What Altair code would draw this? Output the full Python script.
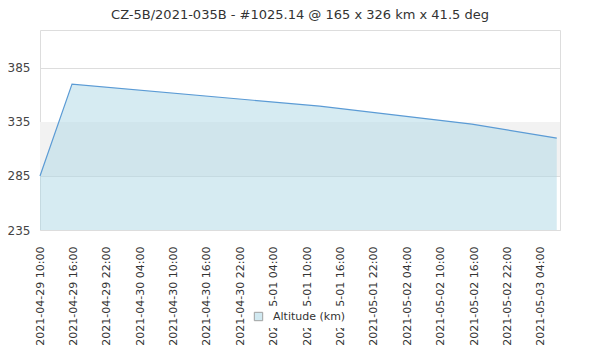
import altair as alt
import pandas as pd

# Data
times = ["2021-04-29T10:00:00", "2021-04-29T15:45:00", "2021-05-01T12:15:00",
         "2021-05-02T15:35:00", "2021-05-03T06:50:00"]
altitude = [285, 370, 349.5, 333, 320]
series_name = ["Altitude (km)"] * len(times)

band_low = [285]
band_high = [335]

y_ticks = [235, 285, 335, 385]
y_domain = [235, 420]
x_domain = ["2021-04-29T10:00:00", "2021-05-03T07:25:00"]
x_ticks = ["2021-04-29T10:00:00", "2021-04-29T16:00:00", "2021-04-29T22:00:00",
           "2021-04-30T04:00:00", "2021-04-30T10:00:00", "2021-04-30T16:00:00",
           "2021-04-30T22:00:00", "2021-05-01T04:00:00", "2021-05-01T10:00:00",
           "2021-05-01T16:00:00", "2021-05-01T22:00:00", "2021-05-02T04:00:00",
           "2021-05-02T10:00:00", "2021-05-02T16:00:00", "2021-05-02T22:00:00",
           "2021-05-03T04:00:00"]

title = "CZ-5B/2021-035B - #1025.14 @ 165 x 326 km x 41.5 deg"

df = pd.DataFrame({"t": times, "alt": altitude, "series": series_name})
band_df = pd.DataFrame({"lo": band_low, "hi": band_high})

x_enc = alt.X(
    "t:T",
    scale=alt.Scale(domain=x_domain),
    axis=alt.Axis(
        values=x_ticks, format="%Y-%m-%d %H:%M", labelAngle=-90,
        labelAlign="right", labelBaseline="middle", labelFont="DejaVu Sans",
        labelFontSize=11, labelColor="#333", labelPadding=16, ticks=False,
        domain=False, grid=False, title=None, labelOverlap=False,
    ),
)
y_scale = alt.Scale(domain=y_domain, nice=False, zero=False)

band = alt.Chart(band_df).mark_rect(color="#f2f2f2").encode(
    y=alt.Y("lo:Q", scale=y_scale,
            axis=alt.Axis(values=y_ticks, labelFont="DejaVu Sans", labelFontSize=12,
                          labelColor="#444", labelPadding=10, ticks=False,
                          domain=False, gridColor="#dddddd", title=None)),
    y2="hi:Q",
)

area = alt.Chart(df).mark_area(fillOpacity=0.5).encode(
    x=x_enc,
    y=alt.Y("alt:Q", scale=y_scale),
    y2=alt.datum(235),
    color=alt.Color(
        "series:N", scale=alt.Scale(range=["#add8e6"]),
        legend=alt.Legend(
            title=None, orient="none", legendX=208, legendY=276,
            symbolType="square", symbolSize=70, symbolOpacity=0.55,
            symbolStrokeColor="#555", symbolStrokeWidth=1,
            labelFont="DejaVu Sans", labelFontSize=11, labelColor="#333",
            fillColor="white", padding=5, labelOffset=9,
        ),
    ),
)

line = alt.Chart(df).mark_line(color="#5b9bd5", strokeWidth=1.2).encode(
    x=x_enc,
    y=alt.Y("alt:Q", scale=y_scale),
)

chart = (
    alt.layer(band, area, line)
    .properties(
        width=520, height=200,
        title=alt.TitleParams(title, font="DejaVu Sans", fontSize=13,
                              fontWeight="normal", color="#333", anchor="middle",
                              offset=8),
        autosize=alt.AutoSizeParams(type="none"),
        padding={"left": 32, "top": 22, "right": 32, "bottom": 122},
    )
    .configure_view(stroke="#dddddd")
    .configure(background="white")
)

chart.save("out.html", embed_options={"renderer": "svg", "actions": False})
